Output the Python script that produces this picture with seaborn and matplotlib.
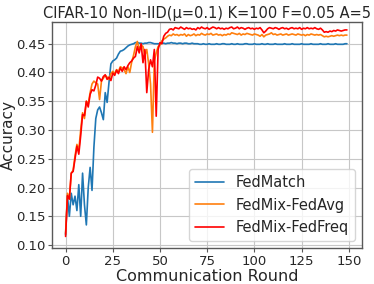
import numpy as np
import pandas as pd
import matplotlib
matplotlib.use("Agg")
import matplotlib.pyplot as plt
import seaborn as sns

# Accuracy per communication round
fedmatch = [
    0.118, 0.185, 0.150, 0.190, 0.170, 0.185, 0.160, 0.205, 0.150, 0.225,
    0.170, 0.135, 0.200, 0.235, 0.195, 0.270, 0.320, 0.335, 0.340, 0.330,
    0.318, 0.365, 0.348, 0.383, 0.415, 0.420, 0.422, 0.425, 0.432, 0.437,
    0.438, 0.440, 0.443, 0.446, 0.448, 0.449, 0.450, 0.452, 0.452, 0.451,
    0.451, 0.450, 0.451, 0.451, 0.452, 0.452, 0.451, 0.450, 0.450, 0.450,
    0.450, 0.451, 0.451, 0.450, 0.451, 0.451, 0.452, 0.451, 0.451, 0.450,
    0.451, 0.451, 0.450, 0.451, 0.451, 0.450, 0.450, 0.451, 0.450, 0.450,
    0.450, 0.449, 0.449, 0.450, 0.449, 0.449, 0.450, 0.449, 0.449, 0.449,
    0.450, 0.449, 0.449, 0.450, 0.450, 0.449, 0.449, 0.449, 0.450, 0.449,
    0.449, 0.450, 0.449, 0.449, 0.449, 0.450, 0.450, 0.449, 0.449, 0.449,
    0.450, 0.449, 0.449, 0.449, 0.450, 0.449, 0.449, 0.450, 0.449, 0.449,
    0.449, 0.450, 0.449, 0.449, 0.449, 0.449, 0.450, 0.449, 0.449, 0.449,
    0.450, 0.449, 0.449, 0.449, 0.449, 0.450, 0.449, 0.449, 0.449, 0.449,
    0.450, 0.449, 0.449, 0.449, 0.449, 0.450, 0.449, 0.449, 0.449, 0.450,
    0.449, 0.449, 0.449, 0.450, 0.449, 0.449, 0.449, 0.449, 0.450, 0.450,
]

fedmix_fedavg = [
    0.120, 0.190, 0.180, 0.225, 0.230, 0.255, 0.275, 0.265, 0.300, 0.330,
    0.320, 0.350, 0.345, 0.365, 0.380, 0.385, 0.382, 0.380, 0.353, 0.385,
    0.390, 0.395, 0.392, 0.388, 0.398, 0.402, 0.398, 0.405, 0.402, 0.410,
    0.408, 0.405, 0.398, 0.410, 0.400, 0.418, 0.430, 0.445, 0.454, 0.440,
    0.448, 0.445, 0.430, 0.440, 0.415, 0.380, 0.296, 0.420, 0.434, 0.445,
    0.448, 0.455, 0.458, 0.460, 0.463, 0.465, 0.464, 0.467, 0.465, 0.466,
    0.464, 0.466, 0.465, 0.467, 0.463, 0.466, 0.464, 0.465, 0.467, 0.464,
    0.466, 0.465, 0.468, 0.466, 0.465, 0.467, 0.466, 0.468, 0.465, 0.466,
    0.467, 0.465, 0.466, 0.464, 0.466, 0.465, 0.467, 0.466, 0.469, 0.468,
    0.467, 0.466, 0.468, 0.465, 0.467, 0.466, 0.468, 0.467, 0.466, 0.465,
    0.467, 0.466, 0.465, 0.463, 0.466, 0.462, 0.465, 0.466, 0.467, 0.469,
    0.466, 0.467, 0.465, 0.466, 0.467, 0.465, 0.466, 0.467, 0.465, 0.466,
    0.467, 0.466, 0.465, 0.467, 0.466, 0.465, 0.466, 0.464, 0.466, 0.465,
    0.467, 0.466, 0.465, 0.466, 0.465, 0.466, 0.464, 0.462, 0.463, 0.462,
    0.463, 0.464, 0.463, 0.464, 0.465, 0.464, 0.465, 0.464, 0.465, 0.465,
]

fedmix_fedfreq = [
    0.115, 0.186, 0.180, 0.225, 0.228, 0.250, 0.272, 0.258, 0.290, 0.327,
    0.325, 0.350, 0.340, 0.362, 0.370, 0.368, 0.378, 0.392, 0.390, 0.385,
    0.393, 0.396, 0.388, 0.392, 0.386, 0.399, 0.395, 0.404, 0.398, 0.408,
    0.402, 0.410, 0.405, 0.412, 0.417, 0.420, 0.425, 0.428, 0.445, 0.434,
    0.450, 0.417, 0.440, 0.365, 0.405, 0.422, 0.410, 0.440, 0.324, 0.440,
    0.452, 0.450, 0.463, 0.468, 0.470, 0.475, 0.476, 0.474, 0.478, 0.477,
    0.476, 0.479, 0.477, 0.475, 0.478, 0.476, 0.477, 0.475, 0.476, 0.474,
    0.478, 0.476, 0.479, 0.477, 0.476, 0.478, 0.475, 0.477, 0.479, 0.478,
    0.476, 0.478, 0.476, 0.477, 0.475, 0.477, 0.476, 0.478, 0.479, 0.476,
    0.477, 0.479, 0.476, 0.478, 0.477, 0.475, 0.477, 0.478, 0.476, 0.477,
    0.475, 0.477, 0.476, 0.478, 0.474, 0.469, 0.472, 0.476, 0.478, 0.477,
    0.476, 0.478, 0.477, 0.475, 0.477, 0.478, 0.476, 0.477, 0.475, 0.477,
    0.478, 0.476, 0.477, 0.476, 0.478, 0.475, 0.477, 0.476, 0.478, 0.476,
    0.477, 0.476, 0.478, 0.476, 0.475, 0.477, 0.474, 0.470, 0.471, 0.470,
    0.472, 0.471, 0.473, 0.472, 0.474, 0.473, 0.472, 0.473, 0.474, 0.474,
]

rounds = list(range(len(fedmatch)))
methods = ["FedMatch", "FedMix-FedAvg", "FedMix-FedFreq"]
colors = ["#1f77b4", "#ff7f0e", "#ff0000"]

df = pd.DataFrame({
    "round": rounds * 3,
    "acc": fedmatch + fedmix_fedavg + fedmix_fedfreq,
    "method": [m for m in methods for _ in rounds],
})

sns.set_style("whitegrid", {
    "axes.edgecolor": "0.35",
    "grid.color": "0.78",
    "xtick.bottom": True,
    "ytick.left": True,
})
plt.rcParams["font.family"] = ["DejaVu Sans"]

fig, ax = plt.subplots(figsize=(3.74, 2.84), dpi=100)
sns.lineplot(data=df, x="round", y="acc", hue="method", palette=colors,
             hue_order=methods, linewidth=1.2, ax=ax)

ax.set_xlim(-7, 157)
ax.set_ylim(0.095, 0.488)
ax.set_xticks([0, 25, 50, 75, 100, 125, 150])
ax.set_yticks([0.10, 0.15, 0.20, 0.25, 0.30, 0.35, 0.40, 0.45])
ax.yaxis.set_major_formatter(plt.FormatStrFormatter("%.2f"))
ax.tick_params(labelsize=9.5, length=3, color="0.35", pad=2)
for s in ax.spines.values():
    s.set_linewidth(1.0)
ax.set_xlabel("Communication Round", fontsize=11.5, labelpad=1)
ax.set_ylabel("Accuracy", fontsize=11)
ax.yaxis.set_label_coords(-0.117, 0.5)
ax.set_title("CIFAR-10 Non-IID(μ=0.1) K=100 F=0.05 A=5", fontsize=10.5, pad=3)
ax.legend(loc="lower right", fontsize=10.5, frameon=True, handlelength=2.0)

fig.subplots_adjust(left=0.14, right=0.968, top=0.923, bottom=0.127)
fig.savefig("out.png", dpi=100)
